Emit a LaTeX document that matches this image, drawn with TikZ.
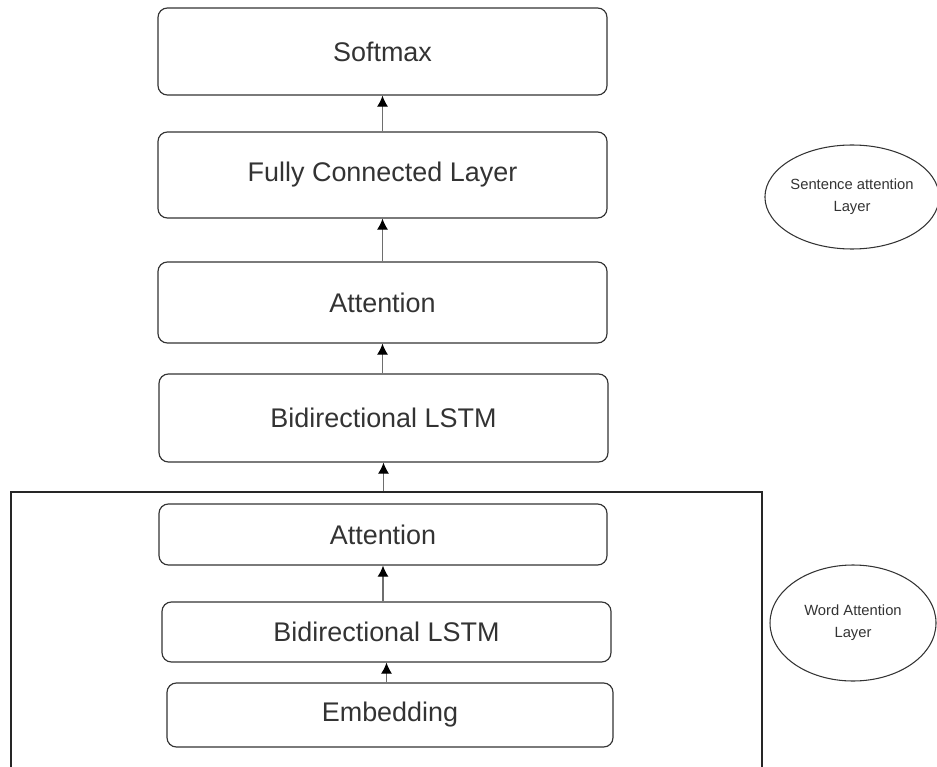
\documentclass[tikz,border=0pt]{standalone}
\usepackage{fontspec}
\setmainfont{Liberation Sans}
\usetikzlibrary{arrows.meta,shapes.geometric}
\definecolor{edgegray}{HTML}{333333}
\definecolor{shaftgray}{HTML}{6E6E6E}
\begin{document}
\begin{tikzpicture}[x=0.03cm,y=-0.03cm]
    \tikzset{layer/.style={draw=edgegray, line width=1pt, rounded corners=8pt, text=edgegray,
                           font=\fontsize{23}{27}\selectfont, minimum width=13.47cm},
             note/.style={ellipse, draw=edgegray, line width=0.9pt, text=edgegray, align=center,
                          font=\fontsize{12.6}{18.5}\selectfont, minimum width=4.98cm, inner sep=0pt},
             flow/.style={draw=shaftgray, line width=1.1pt, -{Latex[length=9.5pt,width=9.5pt,black]}}}
    \useasboundingbox (0,0) rectangle (937,767);
    \clip (0,0) rectangle (937,767);
    % sentence level
    \node[layer, minimum height=2.61cm] (softmax) at (382.5,51.5) {Softmax};
    \node[layer, minimum height=2.58cm] (fc) at (382.5,175) {Fully Connected Layer};
    \node[layer, minimum height=2.43cm] (sattn) at (382.5,302.5) {Attention};
    \node[layer, minimum height=2.64cm] (slstm) at (383.5,418) {Bidirectional LSTM};
    % word level, frame runs off the bottom
    \node[draw=black!85, line width=1pt, minimum width=22.53cm, minimum height=9.24cm] (wframe) at (386.5,646) {};
    \node[layer, minimum width=13.44cm, minimum height=1.83cm] (wattn) at (383,534.5) {Attention};
    \node[layer, minimum height=1.8cm] (wlstm) at (386.5,632) {Bidirectional LSTM};
    \node[layer, minimum width=13.38cm, minimum height=1.92cm] (embed) at (390,715) {Embedding};
    % notes on the right
    \node[note, minimum height=3.12cm] (sentnote) at (852,197) {Sentence attention\\Layer};
    \node[note, minimum height=3.48cm] (wordnote) at (853,623) {Word Attention\\Layer};
    % connectors
    \draw[flow] (fc.north) -- (softmax.south);
    \draw[flow] (sattn.north) -- (fc.south);
    \draw[flow] (sattn.south |- slstm.north) -- (sattn.south);
    \draw[flow] (slstm.south |- wframe.north) -- (slstm.south);
    \draw[flow] (wattn.south |- wlstm.north) -- (wattn.south);
    \draw[flow] (wlstm.south |- embed.north) -- (wlstm.south);
\end{tikzpicture}
\end{document}
